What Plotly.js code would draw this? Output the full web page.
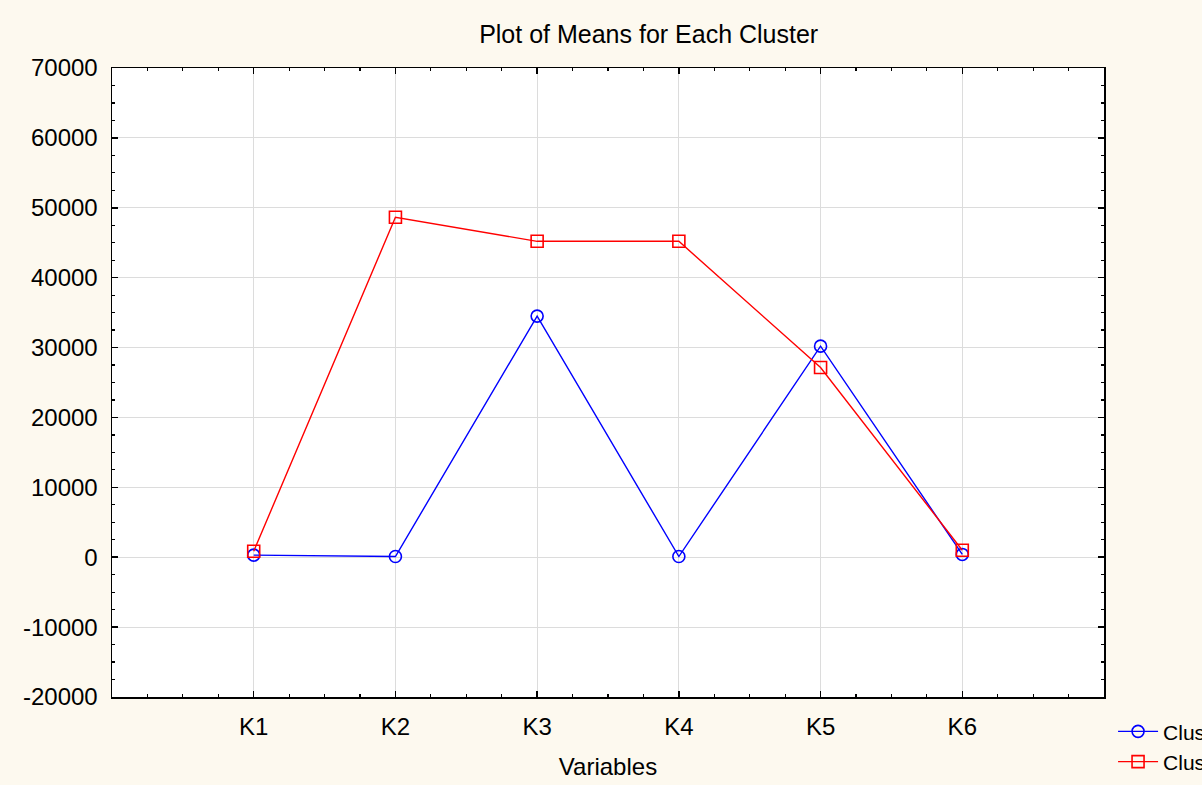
<!DOCTYPE html>
<html>
<head>
<meta charset="utf-8">
<script src="https://cdn.plot.ly/plotly-3.0.1.min.js"></script>
<style>html,body{margin:0;padding:0;background:#FDF9EF;overflow:hidden;}#chart{width:1202px;height:785px;}</style>
</head>
<body>
<div id="chart"></div>
<script>
const categories = ["K1", "K2", "K3", "K4", "K5", "K6"];
const positions = [1, 2, 3, 4, 5, 6];
const cluster1 = [300, 100, 34500, 100, 30200, 400];
const cluster2 = [850, 48650, 45200, 45200, 27150, 1000];
const seriesNames = ["Cluster 1", "Cluster 2"];
const yTicks = [-20000, -10000, 0, 10000, 20000, 30000, 40000, 50000, 60000, 70000];
const yTickText = ["-20000", "-10000", "0", "10000", "20000", "30000", "40000", "50000", "60000", "70000"];

const font = "Liberation Sans, Arial, sans-serif";

const traces = [
  {
    x: positions, y: cluster1, name: seriesNames[0], type: "scatter", mode: "lines+markers",
    line: {color: "#0000FF", width: 1.4},
    marker: {symbol: "circle-open", size: 12, color: "#0000FF", line: {width: 1.6}}
  },
  {
    x: positions, y: cluster2, name: seriesNames[1], type: "scatter", mode: "lines+markers",
    line: {color: "#FF0000", width: 1.4},
    marker: {symbol: "square-open", size: 12, color: "#FF0000", line: {width: 1.6}}
  }
];

const layout = {
  width: 1202, height: 785,
  paper_bgcolor: "#FDF9EF",
  plot_bgcolor: "#FFFFFF",
  margin: {l: 112, r: 98, t: 68, b: 88},
  font: {family: font, size: 24, color: "#000"},
  title: {text: "Plot of Means for Each Cluster", x: 0.541, xref: "paper", xanchor: "center",
          y: 37, yref: "container", yanchor: "middle",
          font: {family: font, size: 25, color: "#000"}},
  xaxis: {
    range: [0, 7], tickvals: positions, ticktext: categories,
    showline: true, linecolor: "#000", linewidth: 1.5, mirror: "allticks",
    ticks: "inside", ticklen: 6, tickcolor: "#000", tickwidth: 1.5,
    showgrid: true, gridcolor: "#DCDCDC", gridwidth: 1, zeroline: false,
    minor: {dtick: 0.25, tick0: 0, ticks: "inside", ticklen: 3, tickcolor: "#000", tickwidth: 1.2, showgrid: false},
    tickfont: {family: font, size: 24},
    ticklabelstandoff: 8,
    title: {text: "Variables", standoff: 19, font: {family: font, size: 24}},
    automargin: false,
    fixedrange: true
  },
  yaxis: {
    range: [-20000, 70000], tickvals: yTicks, ticktext: yTickText,
    showline: true, linecolor: "#000", linewidth: 1.5, mirror: "allticks",
    ticks: "inside", ticklen: 6, tickcolor: "#000", tickwidth: 1.5,
    showgrid: true, gridcolor: "#DCDCDC", gridwidth: 1, zeroline: false,
    minor: {dtick: 2500, tick0: 0, ticks: "inside", ticklen: 3, tickcolor: "#000", tickwidth: 1.2, showgrid: false},
    tickfont: {family: font, size: 24},
    ticklabelstandoff: 8,
    automargin: false,
    fixedrange: true
  },
  showlegend: true,
  legend: {x: 0.926, xanchor: "left", y: 0.094, yanchor: "top", xref: "container", yref: "container",
           bgcolor: "rgba(0,0,0,0)", font: {family: font, size: 21}, tracegroupgap: 0, itemwidth: 40}
};

Plotly.newPlot("chart", traces, layout, {displayModeBar: false, staticPlot: true});
</script>
</body>
</html>
